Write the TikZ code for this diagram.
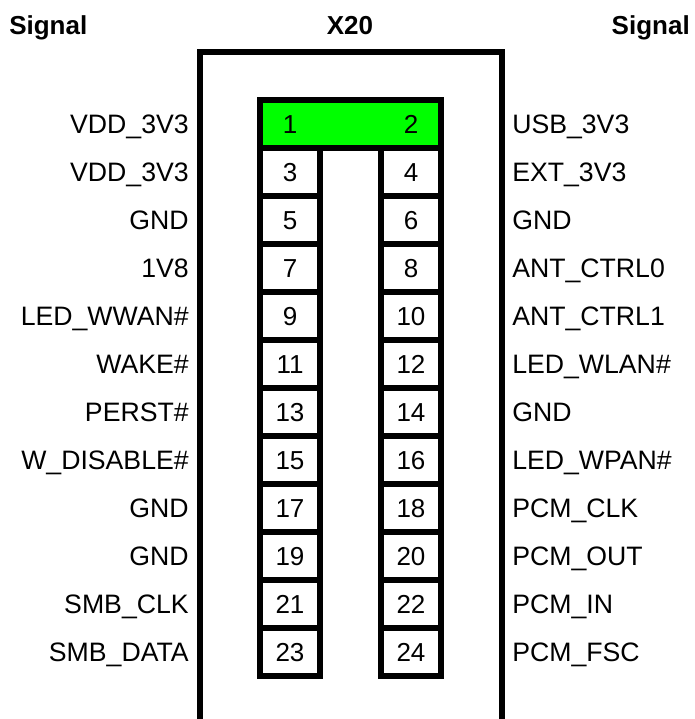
\documentclass[tikz,border=0pt]{standalone}
\usepackage{fontspec}
\setmainfont{Liberation Sans}
\definecolor{pingreen}{RGB}{0,255,0}
\tikzset{
  outerline/.style={line width=4.5pt},
  pinbox/.style={draw, line width=3.8pt, rectangle, minimum width=45pt, minimum height=36pt, inner sep=0pt, font=\fontsize{19.5}{23}\selectfont, text height=14pt, text depth=0pt},
  sigl/.style={anchor=east, inner sep=0pt, font=\fontsize{20}{24}\selectfont, text height=14.3pt, text depth=0pt},
  sigr/.style={anchor=west, inner sep=0pt, font=\fontsize{20}{24}\selectfont, text height=14.3pt, text depth=0pt},
  head/.style={inner sep=0pt, font=\fontsize{19.5}{23}\selectfont\bfseries, text height=14pt, text depth=0pt}
}
\begin{document}
\begin{tikzpicture}[x=0.75pt,y=-0.75pt]
\useasboundingbox (0,0) rectangle (694,719);
% headings
\node[head, anchor=west] (hl) at (9,25) {Signal};
\node[head] (hx) at (350,25) {X20};
\node[head, anchor=east] (hr) at (690,25) {Signal};
% outer connector outline (open at bottom)
\coordinate (obl) at (200,725);
\coordinate (otl) at (200,52);
\coordinate (otr) at (502,52);
\coordinate (obr) at (502,725);
\draw[outerline] (obl) -- (otl) -- (otr) -- (obr);
% pin 1-2 row
\node[pinbox, fill=pingreen, minimum width=135.75pt] (p12) at (350.5,124) {};
\node[inner sep=0pt, font=\fontsize{19.5}{23}\selectfont, text height=14pt, text depth=0pt] (p1) at (290,124) {1};
\node[inner sep=0pt, font=\fontsize{19.5}{23}\selectfont, text height=14pt, text depth=0pt] (p2) at (411,124) {2};
% other pins
\foreach \r in {2,...,12}{
  \pgfmathtruncatemacro{\odd}{2*\r-1}
  \pgfmathtruncatemacro{\even}{2*\r}
  \pgfmathsetmacro{\yy}{100+48*(\r-0.5)}
  \node[pinbox] (p\odd) at (290,\yy) {\odd};
  \node[pinbox] (p\even) at (411,\yy) {\even};
}
% left signals
\foreach \r/\t in {1/VDD\_3V3,2/VDD\_3V3,3/GND,4/1V8,5/LED\_WWAN\#,6/WAKE\#,7/PERST\#,8/W\_DISABLE\#,9/GND,10/GND,11/SMB\_CLK,12/SMB\_DATA}{
  \pgfmathsetmacro{\yy}{100+48*(\r-0.5)}
  \node[sigl] (l\r) at (189,\yy) {\t};
}
% right signals
\foreach \r/\t in {1/USB\_3V3,2/EXT\_3V3,3/GND,4/ANT\_CTRL0,5/ANT\_CTRL1,6/LED\_WLAN\#,7/GND,8/LED\_WPAN\#,9/PCM\_CLK,10/PCM\_OUT,11/PCM\_IN,12/PCM\_FSC}{
  \pgfmathsetmacro{\yy}{100+48*(\r-0.5)}
  \node[sigr] (r\r) at (512,\yy) {\t};
}
\end{tikzpicture}
\end{document}
